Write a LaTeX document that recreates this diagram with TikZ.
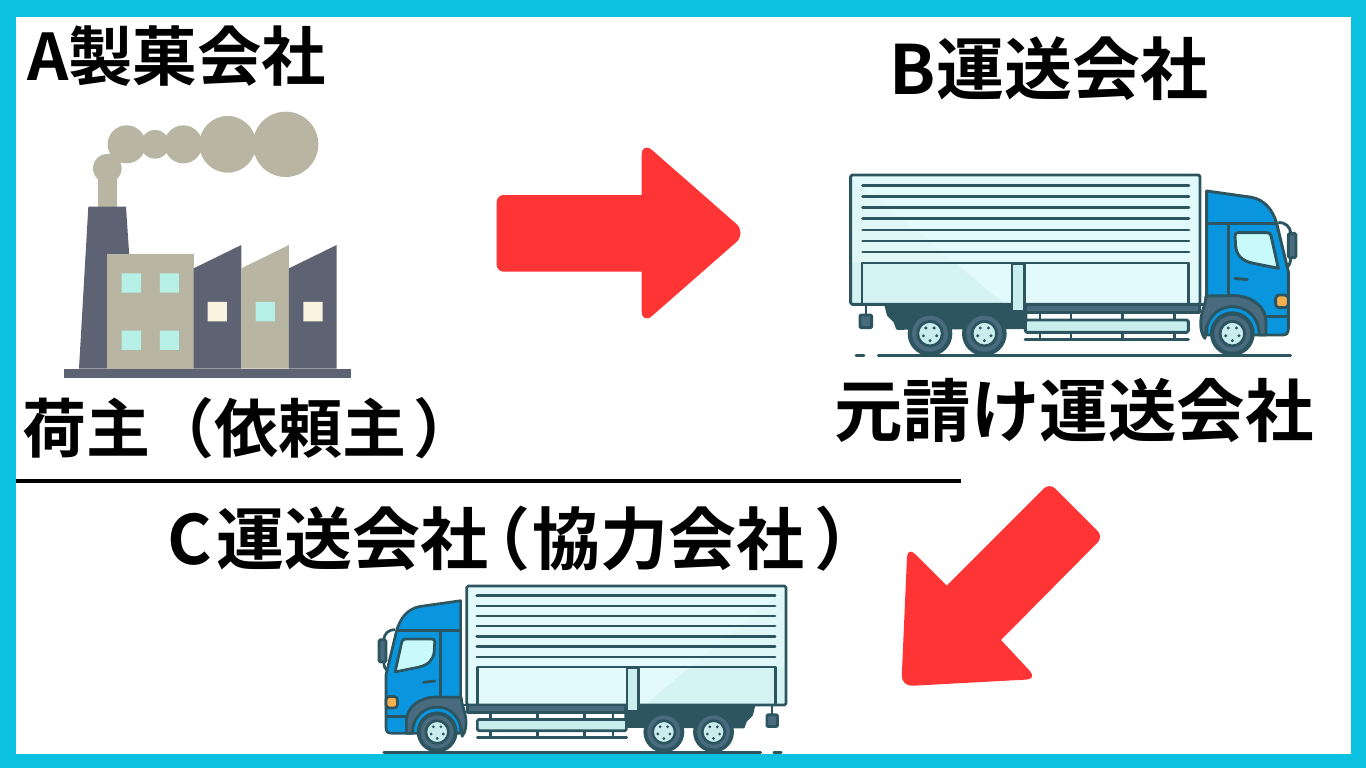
\documentclass[tikz,border=0pt]{standalone}
\usepackage{fontspec}
\setmainfont{Noto Sans CJK JP}[BoldFont={* Bold}]
\definecolor{frame}{HTML}{0CC0DF}
\definecolor{redarrow}{HTML}{FF3535}
\definecolor{tkline}{HTML}{2C5560}
\definecolor{cargo}{HTML}{E3FAFC}
\definecolor{cargoup}{HTML}{DFF7F7}
\definecolor{cargoshade}{HTML}{D6F3F3}
\definecolor{postc}{HTML}{C8EEEE}
\definecolor{cab}{HTML}{0A96DE}
\definecolor{winc}{HTML}{C8FAFC}
\definecolor{fender}{HTML}{4A6A7E}
\definecolor{amber}{HTML}{F4B04E}
\definecolor{hub}{HTML}{C9ECEC}
\definecolor{smoke}{HTML}{B8B6A3}
\definecolor{slate}{HTML}{5E6373}
\definecolor{mint}{HTML}{B6F0E6}
\definecolor{cream}{HTML}{FAF3E0}
\def\tklw{2.9pt}
\tikzset{
  tk/.style={draw=tkline,line width=\tklw,line join=round},
  tkthin/.style={draw=tkline,line width=\tklw,line cap=round},
  caption/.style={text=black,inner sep=0pt,anchor=center},
}
\newcommand{\tkwheel}[2]{%
  \fill[tkline] (#1,#2) circle (67);
  \fill[fender] (#1,#2) circle (54);
  \filldraw[tk,fill=hub] (#1,#2) circle (37);
  \foreach \a in {18,90,162,234,306}
    \fill[tkline] (#1,#2) ++(\a:21) circle (5);
}
\newcommand{\drawtruck}{%
  % ground
  \draw[tkthin] (48,572) -- (72,572);
  \draw[tkthin] (115,572) -- (1352,572);
  % cargo box
  \fill[cargo] (32,30) rectangle (1080,418);
  \fill[cargoup] (36,42) -- (346,294) -- (36,294) -- cycle;
  \fill[cargoshade] (36,294) -- (346,294) -- (490,414) -- (36,414) -- cycle;
  \draw[tk,rounded corners=1.5pt] (32,30) rectangle (1080,418);
  \foreach \yy in {62,95,128,160,195,228,261}
    \draw[tkthin] (68,\yy) -- (1047,\yy);
  \draw[tk] (66,415) -- (66,294) -- (1045,294) -- (1045,415);
  % hanging box
  \draw[tk] (78,420) -- (78,450);
  \filldraw[tk,fill=fender,rounded corners=1pt] (60,450) rectangle (95,488);
  % chassis
  \filldraw[tk,fill=tkline] (138,422) -- (558,422) -- (558,488) -- (172,490) -- (165,470) -- (145,450) -- cycle;
  \filldraw[tk,fill=fender] (558,418) rectangle (1078,443);
  \draw[tk] (1078,418) -- (1100,418);
  % side guard
  \foreach \xx in {600,693,847,1003}
    \draw[tk] (\xx,445) -- (\xx,524);
  \draw[tkthin] (555,524) -- (1045,524);
  \filldraw[tk,fill=postc,rounded corners=1.5pt] (556,465) rectangle (1045,502);
  % post
  \filldraw[tk,fill=postc] (516,296) rectangle (554,440);
  % rear wheels
  \tkwheel{270}{506}
  \tkwheel{433}{506}
  % cab
  \filldraw[tk,fill=cab] (1100,78) -- (1235,97) .. controls (1275,105) and (1298,135) .. (1310,175)
    -- (1345,320) -- (1345,490) .. controls (1345,505) and (1340,510) .. (1325,510) -- (1100,510) -- cycle;
  \draw[tk] (1100,175) -- (1310,175);
  \draw[tk] (1165,175) -- (1165,395);
  \filldraw[tk,fill=winc] (1185,212) .. controls (1185,205) and (1188,203) .. (1195,203) -- (1280,203)
    .. controls (1288,203) and (1291,206) .. (1293,212) -- (1315,310) -- (1240,295)
    .. controls (1205,288) and (1190,270) .. (1187,245) -- cycle;
  \draw[tkthin] (1185,340) -- (1222,344);
  \filldraw[tk,fill=amber,rounded corners=3.5pt] (1307,390) rectangle (1345,428);
  \draw[tk] (1280,455) -- (1345,455);
  % mirror
  \draw[tk] (1315,172) .. controls (1335,172) and (1352,185) .. (1352,205);
  \draw[tk] (1352,278) .. controls (1352,292) and (1348,302) .. (1340,307);
  \filldraw[tk,fill=fender,rounded corners=1.5pt] (1345,205) rectangle (1368,278);
  % fender
  \filldraw[tk,fill=fender] (1098,393) -- (1180,392) .. controls (1235,392) and (1278,425) .. (1278,470)
    -- (1278,510) -- (1258,510) -- (1258,506) .. controls (1255,450) and (1215,425) .. (1177,425)
    .. controls (1130,425) and (1098,460) .. (1095,520) .. controls (1085,510) and (1078,480) .. (1085,450)
    .. controls (1088,430) and (1098,415) .. (1098,393) -- cycle;
  \tkwheel{1177}{506}
}
\begin{document}
\begin{tikzpicture}[x=1pt,y=-1pt]
\useasboundingbox (0,0) rectangle (1366,768);
% frame
\fill[frame] (0,0) rectangle (1366,768);
\fill[white] (16,17) rectangle (1351,754);
% divider
\draw[black,line width=4pt] (16,481) -- (961,481);
% factory
\begin{scope}[shift={(50,100)},x=0.33333pt,y=-0.33333pt]
  \fill[smoke] (707,133) circle (98) (533,133) circle (85) (400,133) circle (57)
    (315,133) circle (43) (230,133) circle (57) (172,205) circle (43);
  \fill[smoke] (143,205) rectangle (200,322);
  \fill[slate] (115,320) -- (228,320) -- (238,470) -- (172,806) -- (87,806) -- cycle;
  \fill[slate] (172,465) -- (238,465) -- (238,806) -- (172,806) -- cycle;
  \fill[slate] (43,806) rectangle (903,835);
  \fill[smoke] (172,463) rectangle (431,806);
  \fill[slate] (431,505) -- (574,435) -- (574,806) -- (431,806) -- cycle;
  \fill[smoke] (574,505) -- (717,435) -- (717,806) -- (574,806) -- cycle;
  \fill[slate] (717,505) -- (860,435) -- (860,806) -- (717,806) -- cycle;
  \fill[mint] (215,520) rectangle (273,578) (330,520) rectangle (387,578)
    (215,692) rectangle (273,750) (330,692) rectangle (387,750) (617,606) rectangle (675,664);
  \fill[cream] (473,606) rectangle (531,664) (760,606) rectangle (818,664);
\end{scope}
% arrows
\fill[redarrow,rounded corners=7pt] (496.7,195) rectangle (660,271.7);
\fill[redarrow,rounded corners=14pt] (641.7,233) -- (641.7,141) -- (746.7,233) -- (641.7,325) -- cycle;
\begin{scope}[shift={(890,475)},x=0.33333pt,y=-0.33333pt]
  \fill[redarrow] (170,332) [rounded corners=8pt] -- (478.5,23.5) -- (640,185) [sharp corners] -- (333,495) [rounded corners=11pt] -- (442,612) -- (34,634) -- (52.4,214) [sharp corners] -- (170,332) -- cycle;
\end{scope}
% trucks
\begin{scope}[shift={(840,165)},x=0.33333pt,y=-0.33333pt]
  \drawtruck
\end{scope}
\def\tklw{2.7pt}
\begin{scope}[shift={(795.8,576.8)},x=-0.3047pt,y=-0.3067pt]
  \drawtruck
\end{scope}
% captions
\node[caption,font=\bfseries\fontsize{64.4}{64}\selectfont] (a) at (176.5,56) {A製菓会社};
\node[caption,font=\bfseries\fontsize{68}{68}\selectfont] (b) at (1049,69) {B運送会社};
\node[caption,font=\bfseries\fontsize{64}{64}\selectfont] (a2) at (250,428) {荷主（依頼主\kern7pt）};
\node[caption,font=\bfseries\fontsize{68.5}{68}\selectfont] (b2) at (1074,411) {元請け運送会社};
\node[caption,anchor=west,font=\bfseries\fontsize{68}{68}\selectfont] (c) at (167,539) {C\kern5pt 運送会社\kern-26pt（\kern2pt 協力会社\kern10pt）};
\end{tikzpicture}
\end{document}
